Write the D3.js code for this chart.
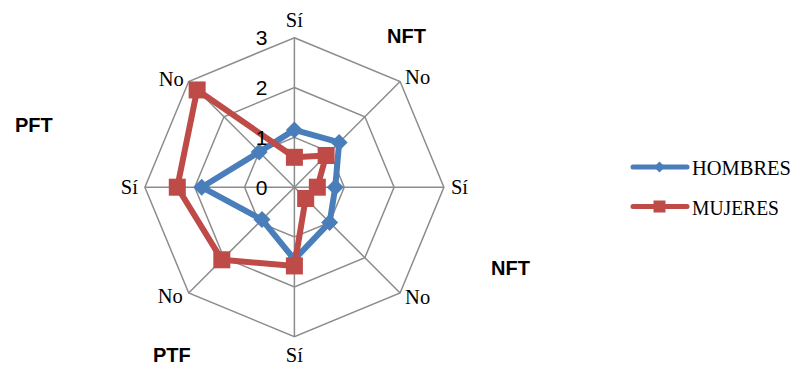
<!DOCTYPE html>
<html><head><meta charset="utf-8">
<script src="https://cdn.jsdelivr.net/npm/d3@7"></script>
<style>body{margin:0;background:#fff}svg{display:block}</style>
</head><body>
<svg id="c" width="796" height="365"></svg>
<script>
const categories = ["Sí","No","Sí","No","Sí","No","Sí","No"];
const hombres = [1.15, 1.27, 0.82, 1.0, 1.45, 0.92, 1.86, 1.0];
const mujeres = [0.6, 0.9, 0.46, 0.32, 1.58, 2.06, 2.35, 2.76];
const ticks = [0, 1, 2, 3];
const groupLabels = ["NFT","NFT","PTF","PFT"];
const seriesNames = ["HOMBRES","MUJERES"];

const svg = d3.select("#c");
const cx = 294.4, cy = 187.2, R = 149.5;
const r = d3.scaleLinear().domain([0,3]).range([0,R]);
const ang = d3.scaleLinear().domain([0, categories.length]).range([0, 2*Math.PI]);
const pt = (i, v) => [cx + r(v)*Math.sin(ang(i)), cy - r(v)*Math.cos(ang(i))];
const grid = "#8c8c8c";
const g = svg.append("g");

// rings
ticks.filter(t => t > 0).forEach(t => {
  g.append("polygon")
    .attr("points", categories.map((c,i) => pt(i,t).join(",")).join(" "))
    .attr("fill","none").attr("stroke",grid).attr("stroke-width",1.5);
});
// spokes
categories.forEach((c,i) => {
  const p = pt(i,3);
  g.append("line").attr("x1",cx).attr("y1",cy).attr("x2",p[0]).attr("y2",p[1])
    .attr("stroke",grid).attr("stroke-width",1.5);
});

// category labels
const labOff = [[0,-11,"middle"],[5,3,"start"],[7,7,"start"],[5,11,"start"],[0,25,"middle"],[-6,10,"end"],[-7,7,"end"],[-5,5,"end"]];
categories.forEach((c,i) => {
  const p = pt(i,3), o = labOff[i];
  g.append("text").attr("x",p[0]+o[0]).attr("y",p[1]+o[1]).attr("text-anchor",o[2])
    .attr("font-family","Liberation Serif, Times New Roman, serif").attr("font-size",20.5)
    .attr("fill","#000").text(c);
});

// series
const line = d3.line().curve(d3.curveLinearClosed);
const series = [
  {name: seriesNames[0], vals: hombres, color: "#4a7ebb", shape: "diamond", w: 99},
  {name: seriesNames[1], vals: mujeres, color: "#be4b48", shape: "square", w: 87}
];
function marker(sel, shape, x, y, s, color) {
  if (shape === "diamond") {
    sel.append("path").attr("d", `M${x},${y-s}L${x+s},${y}L${x},${y+s}L${x-s},${y}Z`).attr("fill",color);
  } else {
    sel.append("rect").attr("x",x-s).attr("y",y-s).attr("width",2*s).attr("height",2*s).attr("fill",color);
  }
}
series.forEach(s => {
  const pts = s.vals.map((v,i) => pt(i,v));
  g.append("path").attr("d", line(pts)).attr("fill","none").attr("stroke",s.color)
    .attr("stroke-width",6).attr("stroke-linejoin","round");
  pts.forEach(p => marker(g, s.shape, p[0], p[1], 8.5, s.color));
});

// tick labels
ticks.forEach(t => {
  g.append("text").attr("x", cx - 27).attr("y", cy - r(t) + 2).attr("text-anchor","end")
    .attr("dominant-baseline","middle")
    .attr("font-family","Liberation Sans, Arial, sans-serif").attr("font-size",21)
    .attr("fill","#000").text(t);
});

// group labels
const groupPos = [[387,43],[491,275],[153,362],[15,132]];
groupLabels.forEach((t,i) => {
  svg.append("text").attr("x",groupPos[i][0]).attr("y",groupPos[i][1])
    .attr("font-family","Liberation Sans, Arial, sans-serif").attr("font-weight","bold")
    .attr("font-size",20).attr("fill","#000").text(t);
});

// legend
const leg = svg.append("g");
series.forEach((s,i) => {
  const y = 167 + i*39.5;
  leg.append("line").attr("x1",633).attr("x2",687).attr("y1",y).attr("y2",y)
    .attr("stroke",s.color).attr("stroke-width",5).attr("stroke-linecap","round");
  marker(leg, s.shape, 659.5, y, s.shape === "diamond" ? 5.5 : 6, s.color);
  leg.append("text").attr("x",692).attr("y",y+8)
    .attr("font-family","Liberation Serif, Times New Roman, serif").attr("font-size",21.5)
    .attr("textLength", s.w).attr("lengthAdjust","spacingAndGlyphs")
    .attr("fill","#000").text(s.name);
});
</script>
</body></html>
